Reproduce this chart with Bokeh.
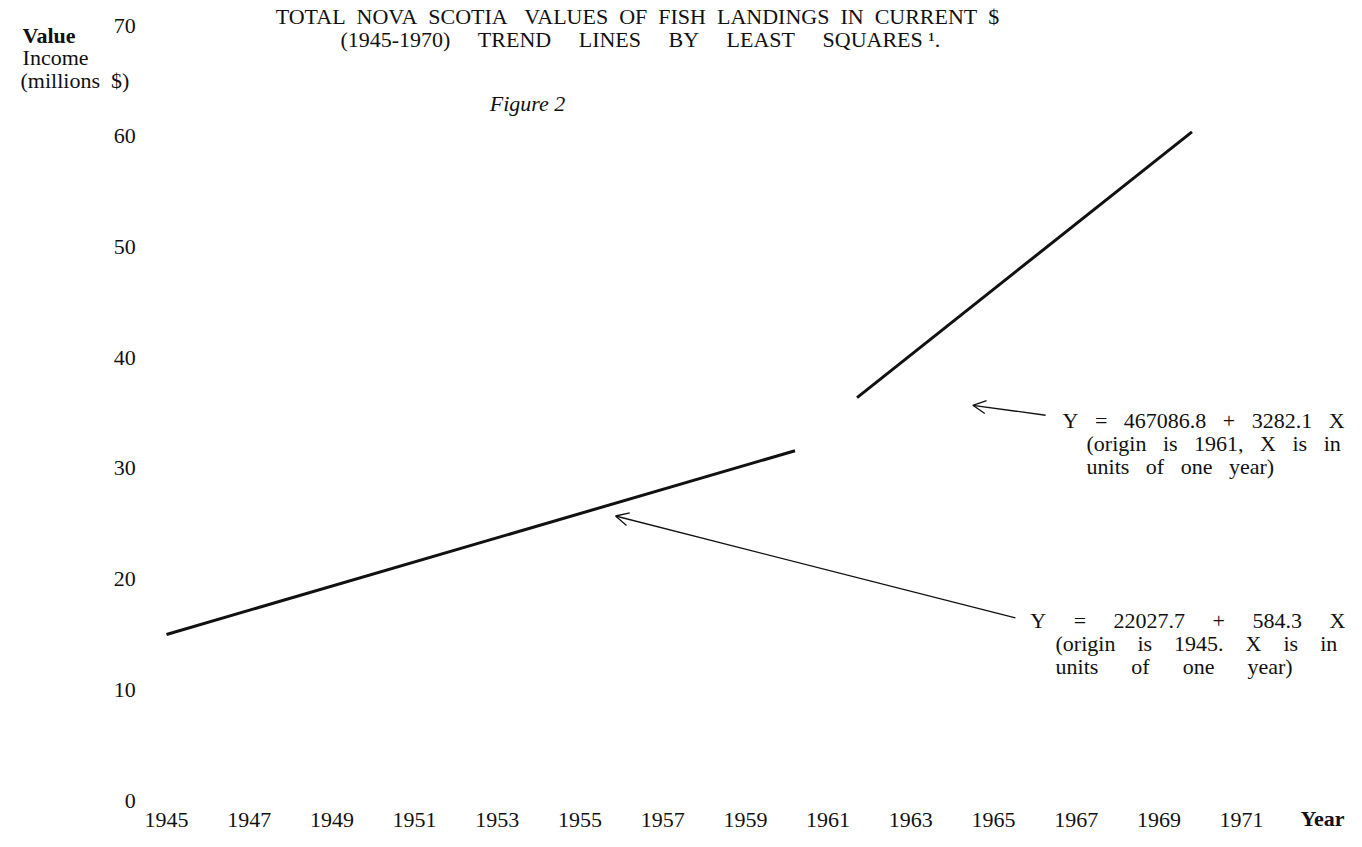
from bokeh.plotting import figure
from bokeh.models import Range1d, FixedTicker, Label, Arrow, OpenHead, ColumnDataSource
from bokeh.embed import file_html
from bokeh.resources import INLINE

# ---- data ----
early_years = [1945.0, 1960.2]
early_values = [15.0, 31.6]
late_years = [1961.7, 1969.8]
late_values = [36.4, 60.4]

x_ticks = list(range(1945, 1972, 2))
y_ticks = [0, 10, 20, 30, 40, 50, 60, 70]


def sp(n):
    return "\u00a0" * n


title_lines = [
    "TOTAL" + sp(2) + "NOVA" + sp(2) + "SCOTIA" + sp(3) + "VALUES" + sp(2) + "OF" + sp(2)
    + "FISH" + sp(2) + "LANDINGS" + sp(2) + "IN" + sp(2) + "CURRENT" + sp(2) + "$",
    "(1945-1970)" + sp(5) + "TREND" + sp(5) + "LINES" + sp(5) + "BY" + sp(5) + "LEAST"
    + sp(5) + "SQUARES" + sp(1) + "\u00b9.",
]
eq_late = [sp(3).join(["Y", "=", "467086.8", "+", "3282.1", "X"]),
           sp(3).join(["(origin", "is", "1961,", "X", "is", "in"]),
           sp(3).join(["units", "of", "one", "year)"])]
eq_early = [sp(5).join(["Y", "=", "22027.7", "+", "584.3", "X"]),
            sp(4).join(["(origin", "is", "1945.", "X", "is", "in"]),
            sp(6).join(["units", "of", "one", "year)"])]

FONT = "Liberation Serif"
INK = "#111111"

p = figure(width=1346, height=831, output_backend="svg", toolbar_location=None,
           x_range=Range1d(1940.9855, 1973.537), y_range=Range1d(-2.800, 72.267),
           min_border=0)
p.outline_line_color = None
p.grid.visible = False
p.background_fill_color = "white"
p.border_fill_color = "white"

for ax in (p.xaxis[0], p.yaxis[0]):
    ax.axis_line_color = None
    ax.major_tick_line_color = None
    ax.minor_tick_line_color = None
    ax.major_label_text_font = FONT
    ax.major_label_text_font_size = "22px"
    ax.major_label_text_color = INK

p.xaxis[0].ticker = FixedTicker(ticks=x_ticks)
p.xaxis[0].fixed_location = -0.5
p.xaxis[0].major_label_standoff = 1
p.yaxis[0].ticker = FixedTicker(ticks=y_ticks)
p.yaxis[0].fixed_location = 1944.81
p.yaxis[0].major_label_standoff = 17

# trend lines
src1 = ColumnDataSource(dict(x=early_years, y=early_values))
src2 = ColumnDataSource(dict(x=late_years, y=late_values))
p.line("x", "y", source=src1, line_width=3, line_color=INK)
p.line("x", "y", source=src2, line_width=3, line_color=INK)


def lab(x, y, text, size="22px", style="normal", align="left"):
    p.add_layout(Label(x=x, y=y, text=text, text_font=FONT, text_font_size=size,
                       text_font_style=style, text_color=INK, text_align=align,
                       text_baseline="middle"))


# title
lab(1956.39, 70.8, title_lines[0], align="center")
lab(1956.46, 68.75, title_lines[1], align="center")
lab(1953.73, 62.96, "Figure 2", style="italic", align="center")

# y header
lab(1941.52, 69.1, "Value", style="bold")
lab(1941.52, 67.1, "Income")
lab(1941.47, 65.0, "(millions" + sp(2) + "$)")

# x label
lab(1973.49, -1.65, "Year", style="bold", align="right")

# equations
for i, t in enumerate(eq_late):
    lab(1966.67 if i == 0 else 1967.25, 34.33 - 2.1 * i, t)
for i, t in enumerate(eq_early):
    lab(1965.89 if i == 0 else 1966.50, 16.26 - 2.1 * i, t)

# arrows
p.add_layout(Arrow(x_start=1965.53, y_start=16.5, x_end=1955.86, y_end=25.7,
                   line_width=1.3, line_color=INK,
                   end=OpenHead(size=13, line_width=1.3, line_color=INK)))
p.add_layout(Arrow(x_start=1966.26, y_start=34.8, x_end=1964.5, y_end=35.7,
                   line_width=1.3, line_color=INK,
                   end=OpenHead(size=13, line_width=1.3, line_color=INK)))

open("out.html", "w").write(file_html(p, INLINE))
